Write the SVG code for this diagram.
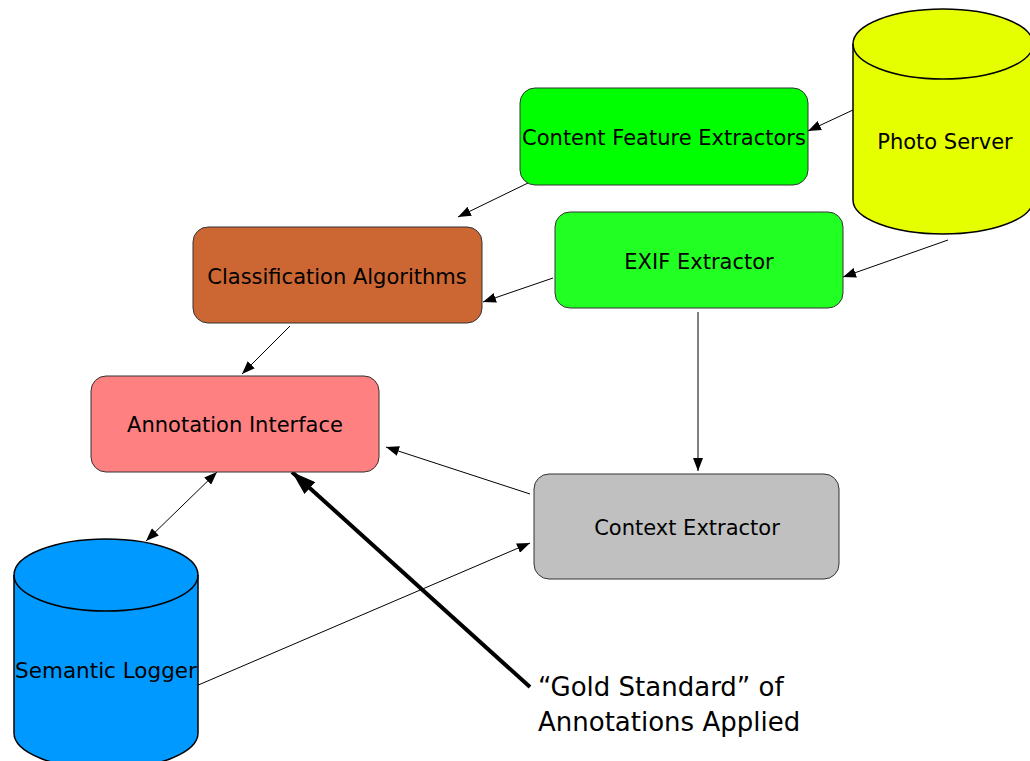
<svg xmlns="http://www.w3.org/2000/svg" width="1030" height="761" viewBox="0 0 1030 761">
<style>
.box{stroke:#333;stroke-width:1}
.cyl{stroke:#000;stroke-width:1.5}
.lbl{font-family:"DejaVu Sans",sans-serif;font-size:21px;fill:#000;text-anchor:middle;dominant-baseline:central}
.big{font-family:"DejaVu Sans",sans-serif;font-size:26px;fill:#000}
.c{stroke:#000;stroke-width:1;fill:none}
.ct{stroke:#000;stroke-width:4;fill:none}
</style>
<defs>
<marker id="ah" markerUnits="userSpaceOnUse" markerWidth="14" markerHeight="10" refX="13" refY="5" orient="auto">
<path d="M0,0 L13,5 L0,10 z" fill="#000"/>
</marker>
<marker id="ahs" markerUnits="userSpaceOnUse" markerWidth="14" markerHeight="10" refX="0" refY="5" orient="auto">
<path d="M13,0 L0,5 L13,10 z" fill="#000"/>
</marker>
<marker id="ahb" markerUnits="userSpaceOnUse" markerWidth="26" markerHeight="16" refX="24" refY="8" orient="auto">
<path d="M0,0 L24,8 L0,16 z" fill="#000"/>
</marker>
</defs>
<rect width="1030" height="761" fill="#fff"/>
<g id="connectors">
<line class="c" x1="853" y1="110" x2="808" y2="131" marker-end="url(#ah)"/>
<line class="c" x1="948" y1="240" x2="843" y2="277" marker-end="url(#ah)"/>
<line class="c" x1="528" y1="183" x2="458" y2="217" marker-end="url(#ah)"/>
<line class="c" x1="553" y1="278" x2="483" y2="302" marker-end="url(#ah)"/>
<line class="c" x1="290" y1="326" x2="242" y2="374" marker-end="url(#ah)"/>
<line class="c" x1="698" y1="312" x2="698" y2="471" marker-end="url(#ah)"/>
<line class="c" x1="530" y1="494" x2="386" y2="447" marker-end="url(#ah)"/>
<line class="c" x1="196" y1="686" x2="530" y2="543" marker-end="url(#ah)"/>
<line class="c" x1="146" y1="541" x2="217" y2="472" marker-start="url(#ahs)" marker-end="url(#ah)"/>
<line class="ct" x1="530" y1="687" x2="292" y2="472" marker-end="url(#ahb)"/>
</g>
<g id="photo-server">
<path class="cyl" fill="#e6ff00" d="M853,44 L853,200 A90,34 0 0 0 1033,200 L1033,44 A90,35 0 0 0 853,44 Z"/>
<path class="cyl" fill="none" d="M853,44 A90,35 0 0 0 1033,44"/>
<text class="lbl" x="945" y="142">Photo Server</text>
</g>
<g id="content-feature-extractors">
<rect class="box" x="520" y="88" width="288" height="97" rx="15" fill="#00ff00"/>
<text class="lbl" x="664" y="138">Content Feature Extractors</text>
</g>
<g id="exif-extractor">
<rect class="box" x="555" y="212" width="288" height="96" rx="15" fill="#22ff22"/>
<text class="lbl" x="699" y="262">EXIF Extractor</text>
</g>
<g id="classification-algorithms">
<rect class="box" x="193" y="227" width="289" height="96" rx="15" fill="#cc6633"/>
<text class="lbl" x="337" y="277">Classification Algorithms</text>
</g>
<g id="annotation-interface">
<rect class="box" x="91" y="376" width="288" height="96" rx="15" fill="#ff8080"/>
<text class="lbl" x="235" y="425">Annotation Interface</text>
</g>
<g id="context-extractor">
<rect class="box" x="534" y="474" width="305" height="105" rx="15" fill="#c0c0c0"/>
<text class="lbl" x="687" y="528">Context Extractor</text>
</g>
<g id="semantic-logger">
<path class="cyl" fill="#0099ff" d="M14,575 L14,733 A92,36 0 0 0 198,733 L198,575 A92,36 0 0 0 14,575 Z"/>
<path class="cyl" fill="none" d="M14,575 A92,36 0 0 0 198,575"/>
<text class="lbl" x="106" y="670" style="font-size:21.5px">Semantic Logger</text>
</g>
<g id="gold-standard-label">
<text class="big" x="538" y="696">“Gold Standard” of</text>
<text class="big" x="538" y="731">Annotations Applied</text>
</g>
</svg>
